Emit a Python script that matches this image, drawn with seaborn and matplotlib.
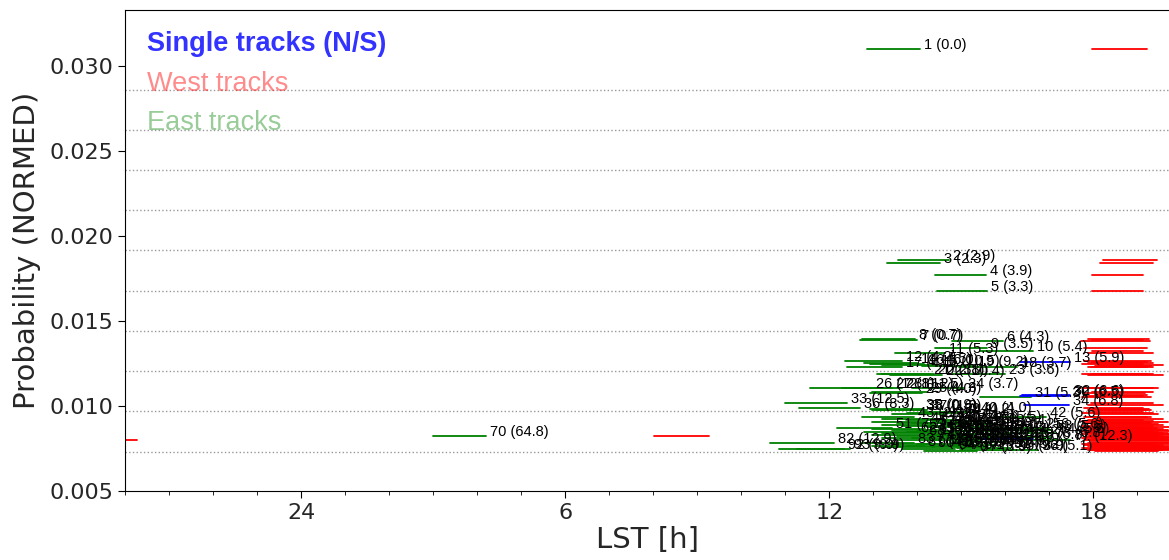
import matplotlib
matplotlib.use("Agg")
import matplotlib.pyplot as plt
import pandas as pd
import seaborn as sns
from matplotlib.ticker import MultipleLocator, FixedLocator

# ---------------- data ----------------
track_ids = list(range(1, 98))
delta_t = [0.0, 2.9, 2.3, 3.9, 3.3, 4.3, 0.7, 0.7, 3.5, 5.4,
           5.3, 4.2, 5.9, 4.5, 10.5, 6.0, 4.1, 3.7, 9.2, 3.7,
           2.8, 10.4, 3.6, 3.7, 4.3, 12.8, 11.2, 11.5, 4.0, 6.5,
           5.3, 6.6, 12.5, 6.8, 0.9, 8.3, 1.3, 0.6, 4.2, 4.0,
           4.1, 5.6, 2.9, 3.3, 4.8, 5.5, 3.2, 6.2, 4.4, 5.1,
           7.7, 5.8, 4.9, 6.0, 5.2, 5.6, 5.0, 5.6, 6.1, 4.7,
           5.3, 5.9, 4.6, 5.6, 6.3, 5.4, 4.2, 6.5, 5.7, 64.8,
           6.0, 5.5, 6.8, 4.9, 5.2, 4.4, 12.3, 6.8, 5.8, 6.2,
           4.6, 12.9, 7.1, 5.9, 6.6, 5.0, 4.8, 6.4, 5.5, 7.3,
           5.2, 9.9, 9.9, 6.1, 3.9, 5.1, 3.9]
probability = [0.03100, 0.01859, 0.01841, 0.01771, 0.01676, 0.01382, 0.01388, 0.01394, 0.01341, 0.01324,
               0.01312, 0.01265, 0.01259, 0.01253, 0.01241, 0.01247, 0.01229, 0.01229, 0.01235, 0.01188,
               0.01188, 0.01182, 0.01188, 0.01106, 0.01082, 0.01106, 0.01106, 0.01106, 0.01076, 0.01059,
               0.01053, 0.01065, 0.01018, 0.01006, 0.00982, 0.00988, 0.00976, 0.00976, 0.00959, 0.00965,
               0.00953, 0.00935, 0.00935, 0.00924, 0.00918, 0.00912, 0.00906, 0.00900, 0.00900, 0.00894,
               0.00871, 0.00888, 0.00882, 0.00876, 0.00871, 0.00871, 0.00865, 0.00859, 0.00859, 0.00853,
               0.00853, 0.00847, 0.00847, 0.00841, 0.00841, 0.00835, 0.00835, 0.00829, 0.00829, 0.00824,
               0.00824, 0.00818, 0.00818, 0.00812, 0.00812, 0.00806, 0.00800, 0.00806, 0.00800, 0.00800,
               0.00788, 0.00782, 0.00782, 0.00776, 0.00776, 0.00771, 0.00765, 0.00765, 0.00759, 0.00759,
               0.00753, 0.00747, 0.00747, 0.00747, 0.00741, 0.00741, 0.00735]
east_start = [36.86, 37.56, 37.31, 38.41, 38.45, 38.79, 36.70, 36.74, 38.41, 39.43,
              37.49, 36.36, 40.34, 36.79, 37.20, 36.92, 36.40, 38.95, 38.11, 37.20,
              37.08, 37.38, 38.79, 37.88, 36.97, 35.56, 36.29, 36.56, 36.92, 40.34,
              39.43, 40.39, 34.99, 40.43, 36.92, 35.31, 37.08, 36.97, 37.77, 38.11,
              37.43, 39.75, 36.74, 37.20, 37.77, 38.34, 36.97, 37.88, 37.54, 38.56,
              36.17, 37.20, 37.65, 38.22, 38.79, 39.82, 36.97, 39.93, 37.43, 38.00,
              38.56, 36.79, 37.77, 39.98, 37.20, 38.34, 38.91, 36.97, 38.11, 26.99,
              37.54, 38.68, 39.93, 37.20, 37.88, 38.45, 40.34, 39.48, 37.54, 38.22,
              38.79, 34.65, 36.74, 37.43, 38.00, 38.56, 36.97, 37.77, 38.34, 37.20,
              38.91, 34.87, 35.26, 37.65, 38.98, 39.59, 38.16]
east_end = [38.06, 38.72, 38.52, 39.57, 39.59, 39.95, 38.00, 37.95, 39.59, 40.62,
            38.63, 37.65, 41.48, 38.00, 38.45, 38.16, 37.65, 40.27, 39.29, 38.38,
            38.29, 38.56, 40.00, 39.07, 38.22, 36.97, 37.43, 37.65, 38.11, 41.44,
            40.59, 41.48, 36.40, 41.44, 38.11, 36.70, 38.22, 38.13, 38.98, 39.36,
            38.61, 40.93, 37.93, 38.45, 38.98, 39.59, 38.22, 39.09, 38.75, 39.82,
            37.43, 38.41, 38.86, 39.48, 40.00, 41.00, 38.18, 41.07, 38.63, 39.20,
            39.77, 38.00, 38.98, 41.12, 38.41, 39.54, 40.11, 38.18, 39.32, 28.20,
            38.75, 39.89, 41.03, 38.41, 39.09, 39.66, 41.48, 40.64, 38.75, 39.43,
            40.00, 36.10, 37.93, 38.63, 39.20, 39.77, 38.16, 38.98, 39.54, 38.38,
            40.11, 36.33, 36.47, 38.86, 40.20, 40.75, 39.36]
west_start = [41.98, 42.21, 42.16, 41.96, 41.98, 41.73, 41.98, 41.87, 41.80, 41.98,
              41.87, 41.80, 41.98, 41.87, 42.10, 41.75, 41.94, 41.87, 42.03, 41.75,
              42.10, 41.87, 41.98, 41.75, 41.98, 41.87, 42.10, 41.98, 41.80, 41.87,
              41.75, 42.03, 41.94, 41.87, 41.98, 41.80, 42.10, 41.87, 41.75, 41.98,
              42.03, 41.80, 41.94, 42.10, 41.87, 41.75, 41.98, 42.03, 41.80, 41.94,
              41.87, 42.10, 41.75, 41.98, 42.16, 41.80, 41.94, 41.87, 42.03, 41.75,
              41.98, 42.10, 41.80, 41.94, 41.87, 42.03, 41.75, 41.98, 42.10, 32.03,
              41.87, 41.80, 41.94, 42.16, 41.75, 41.98, 41.87, 42.03, 41.80, 42.99,
              41.94, 41.87, 42.10, 41.75, 41.98, 41.80, 42.03, 41.87, 41.94, 42.16,
              41.75, 41.98, 41.80, 42.10, 41.87, 41.94, 42.03]
west_end = [43.23, 43.44, 43.35, 43.12, 43.12, 43.28, 43.14, 43.26, 43.23, 43.14,
            43.35, 43.30, 43.23, 43.35, 43.58, 43.12, 43.23, 43.35, 43.30, 43.12,
            43.35, 43.58, 43.23, 43.23, 43.35, 43.12, 43.46, 43.35, 43.17, 43.12,
            43.30, 43.23, 43.35, 43.58, 43.26, 43.14, 43.30, 43.23, 43.35, 43.12,
            43.46, 43.30, 43.23, 43.58, 43.14, 43.35, 43.69, 43.26, 43.30, 43.46,
            43.23, 43.58, 43.35, 43.80, 43.44, 43.30, 43.58, 43.23, 43.69, 43.35,
            43.80, 43.46, 43.26, 43.58, 43.69, 43.35, 43.80, 43.46, 43.80, 33.26,
            43.58, 43.69, 43.80, 43.58, 43.80, 43.46, 43.80, 43.69, 43.58, 44.27,
            43.80, 43.46, 43.69, 43.35, 43.80, 43.58, 43.46, 43.80, 43.69, 43.58,
            43.80, 43.46, 43.80, 43.69, 43.58, 43.80, 43.46]
track_kind = list("EEEEEEEEEEEES" "EEEEEEEEEEEEEEEE" "SES" "ES"
                  "EEEEEEEEEEEEEEEEEEEEEEEEEEEEEEEEEEEEEEEEEEE" "S" "EEEEEEEEEEEEEEEEEEEE")
grid_levels = [0.00729, 0.00971, 0.01206, 0.01441, 0.01676,
               0.01918, 0.02153, 0.02388, 0.02623, 0.02859]
x_major = [24, 30, 36, 42]
x_major_labels = ["24", "6", "12", "18"]
y_ticks = [0.005, 0.010, 0.015, 0.020, 0.025, 0.030]
x_range = (20.0, 43.72)
y_range = (0.005, 0.0333)
legend_texts = ["Single tracks (N/S)", "West tracks", "East tracks"]

# ---------------- build long table ----------------
rows = []
for tid, p, e0, e1, w0, w1, k in zip(track_ids, probability, east_start, east_end,
                                       west_start, west_end, track_kind):
    kind = "S" if k == "S" else "E"
    rows += [dict(seg=f"e{tid}", kind=kind, lst=e0, p=p),
             dict(seg=f"e{tid}", kind=kind, lst=e1, p=p)]
    rows += [dict(seg=f"w{tid}", kind="W", lst=w0, p=p),
             dict(seg=f"w{tid}", kind="W", lst=w1, p=p)]
    if w1 > 44:
        rows += [dict(seg=f"x{tid}", kind="W", lst=w0 - 24, p=p),
                 dict(seg=f"x{tid}", kind="W", lst=w1 - 24, p=p)]
df = pd.DataFrame(rows)

# ---------------- plot ----------------
sns.set_style("ticks")
plt.rcParams["font.family"] = ["DejaVu Sans"]

fig = plt.figure(figsize=(11.69, 5.6), dpi=100)
ax = fig.add_axes([125 / 1169, 1 - 491 / 560, 1 - 125 / 1169, 481 / 560])

for g in grid_levels:
    ax.axhline(g, color="#999999", ls=":", lw=1.0, zorder=0)

sns.lineplot(data=df, x="lst", y="p", hue="kind", units="seg", estimator=None,
             sort=False, palette={"E": "green", "W": "red", "S": "blue"},
             lw=1.3, legend=False, ax=ax)

for tid, p, e1, d in zip(track_ids, probability, east_end, delta_t):
    ax.text(e1 + 0.09, p, f"{tid} ({d:.1f})", fontsize=10.5,
            family="Liberation Sans", va="baseline", ha="left", color="black")

ax.text(0.021, 0.930, legend_texts[0], transform=ax.transAxes, fontsize=19.5,
        fontweight="bold", family="Liberation Sans", color="blue", alpha=0.8, va="center")
ax.text(0.021, 0.847, legend_texts[1], transform=ax.transAxes, fontsize=19.5,
        family="Liberation Sans", color="red", alpha=0.45, va="center")
ax.text(0.021, 0.766, legend_texts[2], transform=ax.transAxes, fontsize=19.5,
        family="Liberation Sans", color="green", alpha=0.4, va="center")

ax.set_xlim(*x_range)
ax.set_ylim(*y_range)
ax.xaxis.set_major_locator(FixedLocator(x_major))
ax.set_xticklabels(x_major_labels)
ax.xaxis.set_minor_locator(MultipleLocator(1))
ax.set_yticks(y_ticks)
ax.set_yticklabels([f"{v:.3f}" for v in y_ticks])
ax.tick_params(axis="both", which="major", labelsize=16, length=5, color="black")
ax.tick_params(axis="x", which="minor", length=3, color="black")
for s in ["left", "bottom", "top"]:
    ax.spines[s].set_color("black")
ax.spines["right"].set_visible(False)

ax.set_xlabel("LST [h]", fontsize=21, labelpad=2)
ax.set_ylabel("Probability (NORMED)", fontsize=21, labelpad=6)

fig.savefig("out.png", dpi=100)
